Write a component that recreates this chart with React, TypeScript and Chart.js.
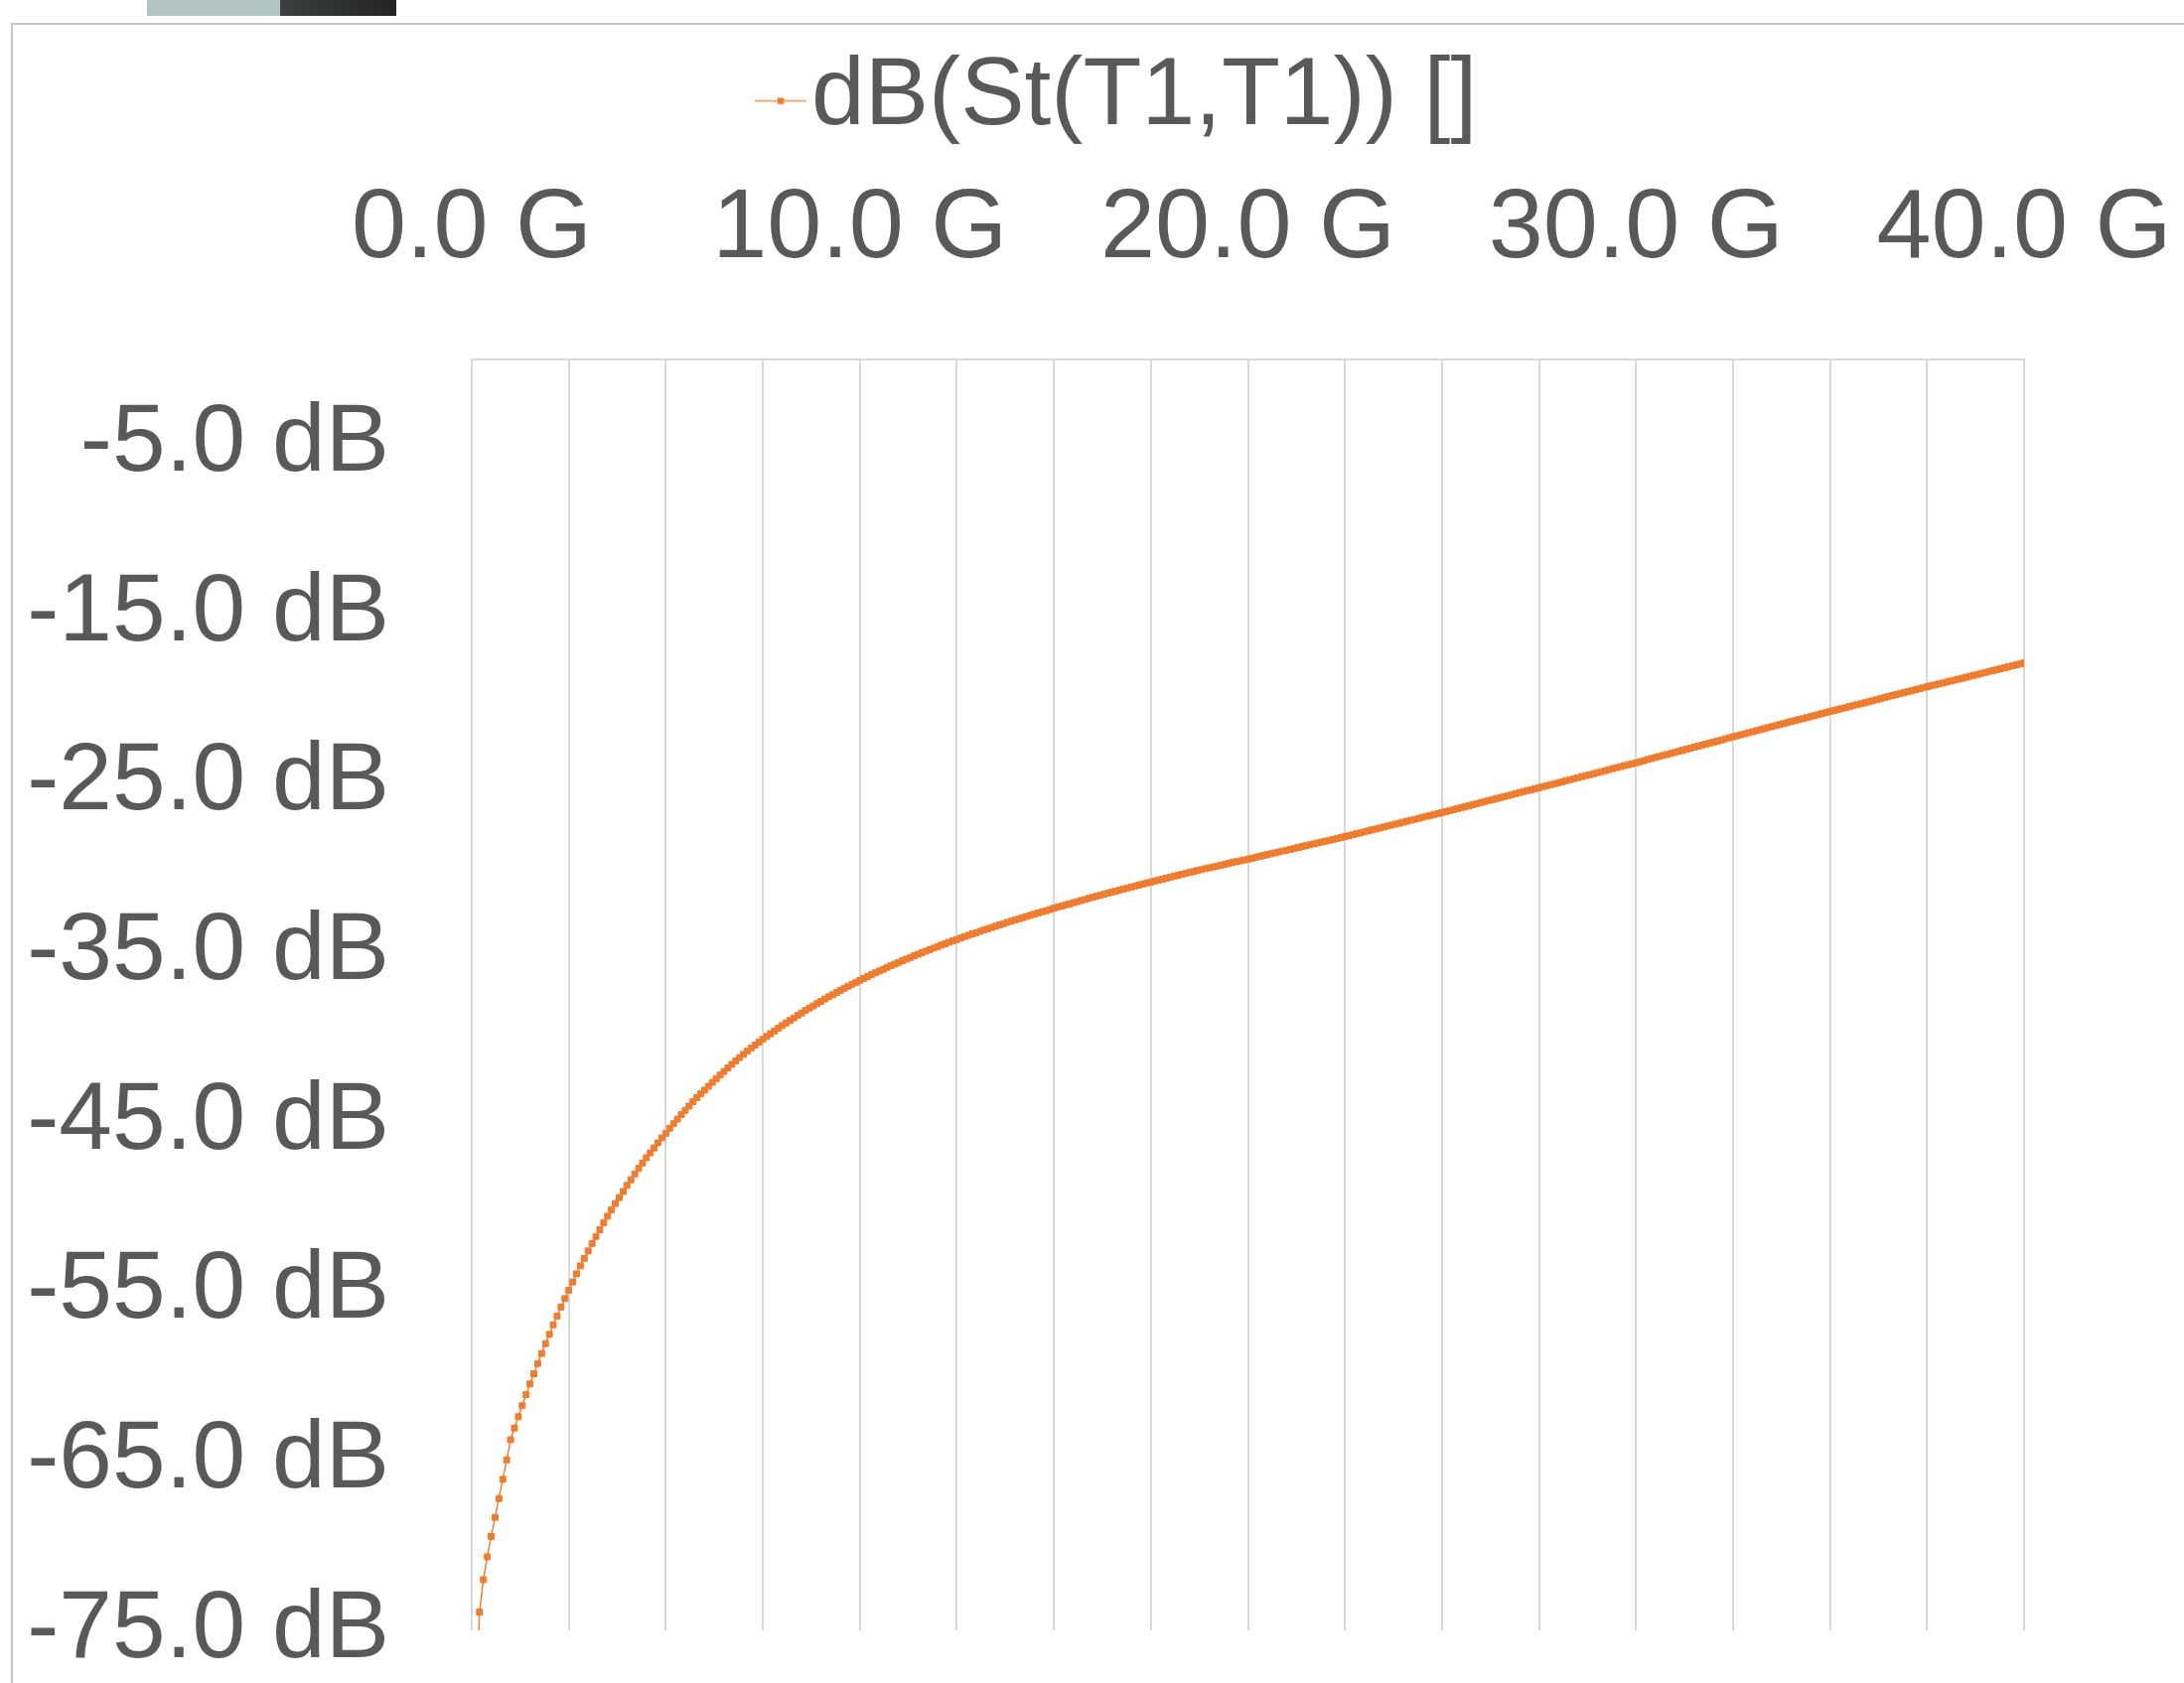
import React, { useEffect, useRef } from 'react';
import { Chart, registerables } from 'chart.js';

Chart.register(...registerables);

const seriesLabel = 'dB(St(T1,T1)) []';

// Frequency sweep (GHz)
const freqGHz = [
  0.1, 0.2, 0.3, 0.4, 0.5, 0.6, 0.7, 0.8, 0.9, 1.0,
  1.1, 1.2, 1.3, 1.4, 1.5, 1.6, 1.7, 1.8, 1.9, 2.0,
  2.1, 2.2, 2.3, 2.4, 2.5, 2.6, 2.7, 2.8, 2.9, 3.0,
  3.1, 3.2, 3.3, 3.4, 3.5, 3.6, 3.7, 3.8, 3.9, 4.0,
  4.1, 4.2, 4.3, 4.4, 4.5, 4.6, 4.7, 4.8, 4.9, 5.0,
  5.1, 5.2, 5.3, 5.4, 5.5, 5.6, 5.7, 5.8, 5.9, 6.0,
  6.1, 6.2, 6.3, 6.4, 6.5, 6.6, 6.7, 6.8, 6.9, 7.0,
  7.1, 7.2, 7.3, 7.4, 7.5, 7.6, 7.7, 7.8, 7.9, 8.0,
  8.1, 8.2, 8.3, 8.4, 8.5, 8.6, 8.7, 8.8, 8.9, 9.0,
  9.1, 9.2, 9.3, 9.4, 9.5, 9.6, 9.7, 9.8, 9.9, 10.0,
  10.1, 10.2, 10.3, 10.4, 10.5, 10.6, 10.7, 10.8, 10.9, 11.0,
  11.1, 11.2, 11.3, 11.4, 11.5, 11.6, 11.7, 11.8, 11.9, 12.0,
  12.1, 12.2, 12.3, 12.4, 12.5, 12.6, 12.7, 12.8, 12.9, 13.0,
  13.1, 13.2, 13.3, 13.4, 13.5, 13.6, 13.7, 13.8, 13.9, 14.0,
  14.1, 14.2, 14.3, 14.4, 14.5, 14.6, 14.7, 14.8, 14.9, 15.0,
  15.1, 15.2, 15.3, 15.4, 15.5, 15.6, 15.7, 15.8, 15.9, 16.0,
  16.1, 16.2, 16.3, 16.4, 16.5, 16.6, 16.7, 16.8, 16.9, 17.0,
  17.1, 17.2, 17.3, 17.4, 17.5, 17.6, 17.7, 17.8, 17.9, 18.0,
  18.1, 18.2, 18.3, 18.4, 18.5, 18.6, 18.7, 18.8, 18.9, 19.0,
  19.1, 19.2, 19.3, 19.4, 19.5, 19.6, 19.7, 19.8, 19.9, 20.0,
  20.1, 20.2, 20.3, 20.4, 20.5, 20.6, 20.7, 20.8, 20.9, 21.0,
  21.1, 21.2, 21.3, 21.4, 21.5, 21.6, 21.7, 21.8, 21.9, 22.0,
  22.1, 22.2, 22.3, 22.4, 22.5, 22.6, 22.7, 22.8, 22.9, 23.0,
  23.1, 23.2, 23.3, 23.4, 23.5, 23.6, 23.7, 23.8, 23.9, 24.0,
  24.1, 24.2, 24.3, 24.4, 24.5, 24.6, 24.7, 24.8, 24.9, 25.0,
  25.1, 25.2, 25.3, 25.4, 25.5, 25.6, 25.7, 25.8, 25.9, 26.0,
  26.1, 26.2, 26.3, 26.4, 26.5, 26.6, 26.7, 26.8, 26.9, 27.0,
  27.1, 27.2, 27.3, 27.4, 27.5, 27.6, 27.7, 27.8, 27.9, 28.0,
  28.1, 28.2, 28.3, 28.4, 28.5, 28.6, 28.7, 28.8, 28.9, 29.0,
  29.1, 29.2, 29.3, 29.4, 29.5, 29.6, 29.7, 29.8, 29.9, 30.0,
  30.1, 30.2, 30.3, 30.4, 30.5, 30.6, 30.7, 30.8, 30.9, 31.0,
  31.1, 31.2, 31.3, 31.4, 31.5, 31.6, 31.7, 31.8, 31.9, 32.0,
  32.1, 32.2, 32.3, 32.4, 32.5, 32.6, 32.7, 32.8, 32.9, 33.0,
  33.1, 33.2, 33.3, 33.4, 33.5, 33.6, 33.7, 33.8, 33.9, 34.0,
  34.1, 34.2, 34.3, 34.4, 34.5, 34.6, 34.7, 34.8, 34.9, 35.0,
  35.1, 35.2, 35.3, 35.4, 35.5, 35.6, 35.7, 35.8, 35.9, 36.0,
  36.1, 36.2, 36.3, 36.4, 36.5, 36.6, 36.7, 36.8, 36.9, 37.0,
  37.1, 37.2, 37.3, 37.4, 37.5, 37.6, 37.7, 37.8, 37.9, 38.0,
  38.1, 38.2, 38.3, 38.4, 38.5, 38.6, 38.7, 38.8, 38.9, 39.0,
  39.1, 39.2, 39.3, 39.4, 39.5, 39.6, 39.7, 39.8, 39.9, 40.0,
];

// dB(St(T1,T1))
const s21dB = [
  -80.0, -73.92, -72.01, -70.66, -69.46, -68.33, -67.22, -66.09, -64.94, -63.75,
  -63.06, -62.39, -61.74, -61.09, -60.46, -59.86, -59.25, -58.66, -58.08, -57.53,
  -56.97, -56.45, -55.92, -55.42, -54.92, -54.44, -53.96, -53.49, -53.05, -52.61,
  -52.17, -51.76, -51.36, -50.94, -50.56, -50.19, -49.81, -49.46, -49.10, -48.74,
  -48.41, -48.07, -47.74, -47.42, -47.11, -46.82, -46.53, -46.23, -45.94, -45.67,
  -45.37, -45.10, -44.83, -44.56, -44.31, -44.06, -43.80, -43.56, -43.33, -43.12,
  -42.89, -42.66, -42.44, -42.23, -42.02, -41.81, -41.60, -41.40, -41.20, -41.01,
  -40.82, -40.64, -40.46, -40.29, -40.12, -39.95, -39.79, -39.63, -39.47, -39.31,
  -39.16, -39.01, -38.86, -38.71, -38.57, -38.42, -38.28, -38.15, -38.01, -37.88,
  -37.74, -37.61, -37.49, -37.36, -37.24, -37.11, -36.99, -36.87, -36.76, -36.64,
  -36.53, -36.41, -36.30, -36.20, -36.09, -35.99, -35.88, -35.78, -35.68, -35.58,
  -35.48, -35.39, -35.29, -35.19, -35.10, -35.01, -34.92, -34.83, -34.74, -34.65,
  -34.56, -34.48, -34.39, -34.31, -34.23, -34.14, -34.06, -33.98, -33.90, -33.83,
  -33.75, -33.67, -33.60, -33.52, -33.45, -33.37, -33.30, -33.22, -33.15, -33.08,
  -33.01, -32.94, -32.87, -32.80, -32.73, -32.66, -32.59, -32.53, -32.46, -32.39,
  -32.32, -32.26, -32.19, -32.13, -32.06, -32.00, -31.93, -31.87, -31.80, -31.74,
  -31.68, -31.62, -31.55, -31.49, -31.43, -31.37, -31.31, -31.25, -31.19, -31.13,
  -31.07, -31.01, -30.95, -30.89, -30.84, -30.78, -30.72, -30.67, -30.61, -30.55,
  -30.49, -30.44, -30.38, -30.33, -30.27, -30.22, -30.16, -30.11, -30.05, -30.00,
  -29.95, -29.90, -29.85, -29.80, -29.74, -29.69, -29.64, -29.59, -29.54, -29.49,
  -29.44, -29.38, -29.33, -29.27, -29.22, -29.17, -29.12, -29.06, -29.01, -28.96,
  -28.91, -28.85, -28.80, -28.74, -28.69, -28.64, -28.59, -28.53, -28.48, -28.43,
  -28.38, -28.32, -28.27, -28.21, -28.16, -28.10, -28.05, -27.99, -27.94, -27.88,
  -27.82, -27.76, -27.71, -27.65, -27.59, -27.53, -27.48, -27.42, -27.37, -27.31,
  -27.25, -27.19, -27.14, -27.08, -27.02, -26.96, -26.91, -26.85, -26.80, -26.74,
  -26.68, -26.62, -26.57, -26.51, -26.45, -26.39, -26.33, -26.27, -26.21, -26.15,
  -26.09, -26.03, -25.98, -25.92, -25.86, -25.80, -25.74, -25.68, -25.62, -25.56,
  -25.50, -25.44, -25.39, -25.33, -25.27, -25.21, -25.15, -25.10, -25.04, -24.98,
  -24.92, -24.86, -24.80, -24.74, -24.68, -24.62, -24.56, -24.51, -24.45, -24.39,
  -24.33, -24.27, -24.21, -24.15, -24.09, -24.03, -23.97, -23.92, -23.86, -23.80,
  -23.74, -23.68, -23.61, -23.55, -23.49, -23.43, -23.37, -23.31, -23.25, -23.19,
  -23.13, -23.07, -23.00, -22.94, -22.88, -22.82, -22.76, -22.70, -22.64, -22.58,
  -22.52, -22.46, -22.39, -22.33, -22.27, -22.21, -22.15, -22.09, -22.03, -21.97,
  -21.91, -21.85, -21.79, -21.73, -21.67, -21.61, -21.55, -21.49, -21.43, -21.37,
  -21.31, -21.25, -21.20, -21.14, -21.08, -21.02, -20.96, -20.90, -20.84, -20.78,
  -20.72, -20.66, -20.61, -20.55, -20.49, -20.43, -20.37, -20.32, -20.26, -20.20,
  -20.14, -20.08, -20.02, -19.96, -19.90, -19.84, -19.78, -19.73, -19.67, -19.61,
  -19.55, -19.49, -19.44, -19.38, -19.32, -19.26, -19.21, -19.15, -19.10, -19.04,
  -18.98, -18.93, -18.87, -18.82, -18.76, -18.70, -18.64, -18.59, -18.53, -18.47,
  -18.41, -18.36, -18.30, -18.25, -18.19, -18.13, -18.08, -18.02, -17.97, -17.91,
];

const xTickValues = [0, 10, 20, 30, 40];
const xTickLabels = ['0.0 G', '10.0 G', '20.0 G', '30.0 G', '40.0 G'];
const xGridStep = 2.5;
const yTickValues = [-75, -65, -55, -45, -35, -25, -15, -5];
const yTickLabels = ['-75.0 dB', '-65.0 dB', '-55.0 dB', '-45.0 dB', '-35.0 dB', '-25.0 dB', '-15.0 dB', '-5.0 dB'];

const W_PAGE = 2199;
const H_PAGE = 1695;

// canvas is a bit larger than the page so that Chart.js' own label overflow
// padding lands the plot area where the reference has it
const PAD_RIGHT = 224;
const PAD_BOTTOM = 142;
const CANVAS_W = 2038 + PAD_RIGHT;
const CANVAS_H = 1642 + PAD_BOTTOM;

export default function App() {
  const ref = useRef<HTMLCanvasElement>(null);

  useEffect(() => {
    const canvas = ref.current;
    if (!canvas) return;

    const FONT = '"Liberation Sans", Arial, sans-serif';
    const FS_LEG = 96.5;
    const FS_X = 99;
    const FS_Y = 96.5;
    const TEXT = '#595959';
    const ORANGE = '#ED7D31';
    const GRID = '#d9d9d9';
    const legendRight = CANVAS_W - PAD_RIGHT;
    const textX = 817;
    const padTop = 20.5;
    const legPad = 30;
    const textMidY = padTop + legPad + FS_LEG / 2;

    const m = document.createElement('canvas').getContext('2d')!;
    m.font = `${FS_LEG}px ${FONT}`;
    const tw = m.measureText(seriesLabel).width;
    const bw = Math.max(4, 2 * textX - legendRight - FS_LEG / 2 + tw);

    // legend icon: short line with a square marker, just left of the text
    const centerX = textX - FS_LEG / 2 - bw / 2;
    const lineStart = 760;
    const lineEnd = 812;
    const half = Math.ceil(Math.max(Math.abs(lineStart - centerX), Math.abs(lineEnd - centerX)) + 6);
    const IW = half * 2;
    const IH = 24;
    const icon = document.createElement('canvas');
    icon.width = IW;
    icon.height = IH;
    const ic = icon.getContext('2d')!;
    const sx = lineStart - centerX + half;
    const ex = lineEnd - centerX + half;
    const lineY = IH / 2 + (101.7 - textMidY);
    ic.strokeStyle = ORANGE;
    ic.lineWidth = 1.3;
    ic.beginPath();
    ic.moveTo(sx, lineY);
    ic.lineTo(ex, lineY);
    ic.stroke();
    ic.fillStyle = ORANGE;
    const mx = (sx + ex) / 2;
    ic.fillRect(mx - 3.3, lineY - 3.3, 6.6, 6.6);

    const chart = new Chart(canvas, {
      type: 'line',
      data: {
        datasets: [
          {
            label: seriesLabel,
            data: freqGHz.map((f, i) => ({ x: f, y: s21dB[i] })),
            borderColor: ORANGE,
            backgroundColor: ORANGE,
            borderWidth: 1.5,
            pointStyle: 'rect',
            pointRadius: 4.2,
            pointBorderWidth: 1,
            pointBackgroundColor: ORANGE,
            pointBorderColor: ORANGE,
            tension: 0,
            fill: false,
          },
        ],
      },
      options: {
        responsive: false,
        animation: false,
        devicePixelRatio: 1,
        events: [],
        layout: { padding: { left: 0, right: PAD_RIGHT, top: padTop, bottom: PAD_BOTTOM } },
        plugins: {
          legend: {
            display: true,
            position: 'top',
            align: 'center',
            labels: {
              usePointStyle: true,
              pointStyle: icon,
              pointStyleWidth: bw,
              padding: legPad,
              font: { family: FONT, size: FS_LEG },
              color: TEXT,
            },
          },
          tooltip: { enabled: false },
        },
        scales: {
          x: {
            type: 'linear',
            position: 'top',
            min: 0,
            max: 40,
            afterFit: (s: any) => {
              s.height = 362 - (padTop + legPad + FS_LEG + 10);
            },
            ticks: {
              stepSize: xGridStep,
              autoSkip: false,
              maxRotation: 0,
              minRotation: 0,
              padding: 71,
              font: { family: FONT, size: FS_X },
              color: TEXT,
              callback: (v: any) => {
                const i = xTickValues.indexOf(Number(v));
                return i >= 0 ? xTickLabels[i] : '';
              },
            },
            grid: { color: GRID, lineWidth: 2, drawTicks: false },
            border: { display: true, color: GRID, width: 2 },
          },
          y: {
            type: 'linear',
            min: -75,
            max: 0,
            afterFit: (s: any) => {
              s.width = 475;
            },
            afterBuildTicks: (s: any) => {
              s.ticks = yTickValues.map((v) => ({ value: v }));
            },
            ticks: {
              padding: 83,
              font: { family: FONT, size: FS_Y },
              color: TEXT,
              callback: (v: any) => {
                const i = yTickValues.indexOf(Number(v));
                return i >= 0 ? yTickLabels[i] : '';
              },
            },
            grid: { display: false, drawTicks: false },
            border: { display: false },
          },
        },
      },
    } as any);

    return () => {
      chart.destroy();
    };
  }, []);

  return (
    <div
      style={{
        position: 'fixed',
        left: 0,
        top: 0,
        width: W_PAGE,
        height: H_PAGE,
        background: '#ffffff',
        overflow: 'hidden',
      }}
    >
      <div style={{ position: 'absolute', left: 148, top: 0, width: 134, height: 16, background: '#b1c5c5' }} />
      <div
        style={{
          position: 'absolute',
          left: 282,
          top: 0,
          width: 117,
          height: 16,
          background: 'linear-gradient(90deg, #3b4040, #232323)',
        }}
      />
      <div
        style={{
          position: 'absolute',
          left: 11,
          top: 23,
          width: 2400,
          height: 1900,
          borderLeft: '2px solid #c6c6c6',
          borderTop: '2px solid #c6c6c6',
        }}
      />
      <canvas
        ref={ref}
        width={CANVAS_W}
        height={CANVAS_H}
        style={{ position: 'absolute', left: 0, top: 0, display: 'block' }}
      />
    </div>
  );
}
